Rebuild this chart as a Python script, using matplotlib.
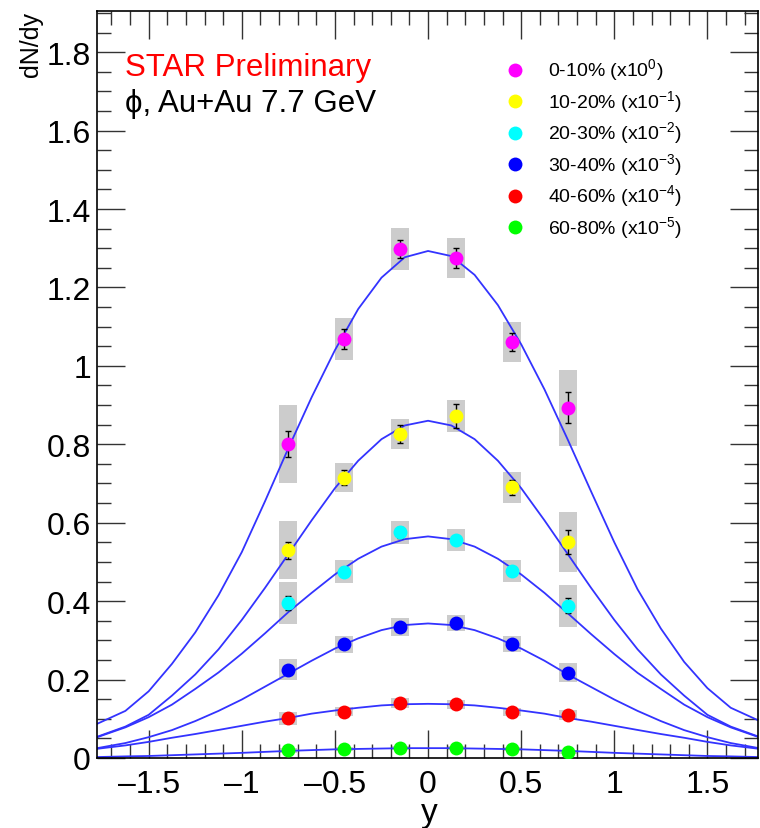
import matplotlib
matplotlib.use("Agg")
import matplotlib.pyplot as plt
from matplotlib.lines import Line2D
from matplotlib.ticker import MultipleLocator

plt.rcParams["font.family"] = ["Liberation Sans", "DejaVu Sans"]
plt.rcParams["mathtext.fontset"] = "custom"
plt.rcParams["mathtext.rm"] = "Liberation Sans"

# ── data ───────────────────────────────────────────────────────────────────
rapidity = [-0.75, -0.45, -0.15, 0.15, 0.45, 0.75]

labels = ["0-10% (x10$^{0}$)", "10-20% (x10$^{-1}$)", "20-30% (x10$^{-2}$)",
          "30-40% (x10$^{-3}$)", "40-60% (x10$^{-4}$)", "60-80% (x10$^{-5}$)"]
colors = ["#ff00ff", "#ffff00", "#00ffff", "#0000ff", "#ff0000", "#00ff00"]

dndy_0_10 = [0.800, 1.069, 1.298, 1.275, 1.061, 0.893]
dndy_10_20 = [0.530, 0.715, 0.826, 0.872, 0.690, 0.551]
dndy_20_30 = [0.395, 0.475, 0.575, 0.555, 0.477, 0.388]
dndy_30_40 = [0.225, 0.290, 0.334, 0.344, 0.290, 0.217]
dndy_40_60 = [0.101, 0.118, 0.140, 0.137, 0.117, 0.110]
dndy_60_80 = [0.019, 0.023, 0.026, 0.026, 0.023, 0.015]

stat_0_10 = [0.033, 0.026, 0.024, 0.025, 0.023, 0.040]
stat_10_20 = [0.022, 0.020, 0.022, 0.030, 0.020, 0.030]
stat_20_30 = [0.018, 0.012, 0.014, 0.010, 0.010, 0.019]
stat_30_40 = [0.008, 0.006, 0.006, 0.006, 0.006, 0.008]
stat_40_60 = [0.004, 0.003, 0.003, 0.003, 0.003, 0.004]
stat_60_80 = [0.002, 0.002, 0.002, 0.002, 0.002, 0.002]

sys_0_10 = [0.100, 0.054, 0.054, 0.052, 0.052, 0.097]
sys_10_20 = [0.074, 0.037, 0.038, 0.040, 0.040, 0.077]
sys_20_30 = [0.054, 0.029, 0.030, 0.028, 0.027, 0.053]
sys_30_40 = [0.027, 0.022, 0.022, 0.020, 0.021, 0.024]
sys_40_60 = [0.016, 0.012, 0.012, 0.011, 0.011, 0.012]
sys_60_80 = [0.006, 0.005, 0.005, 0.005, 0.005, 0.005]

# fit curves
fit_y = [-1.8, -1.625, -1.5, -1.375, -1.25, -1.125, -1.0, -0.875, -0.75,
         -0.625, -0.5, -0.375, -0.25, -0.125, 0.0, 0.125, 0.25, 0.375, 0.5,
         0.625, 0.75, 0.875, 1.0, 1.125, 1.25, 1.375, 1.5, 1.625, 1.8]
fit_0_10 = [0.082, 0.120, 0.170, 0.240, 0.320, 0.415, 0.525, 0.655, 0.790,
            0.920, 1.040, 1.145, 1.225, 1.277, 1.293, 1.280, 1.232, 1.155,
            1.055, 0.940, 0.812, 0.680, 0.550, 0.430, 0.330, 0.245, 0.178,
            0.128, 0.090]
fit_10_20 = [0.050, 0.080, 0.110, 0.159, 0.213, 0.277, 0.352, 0.434, 0.520,
             0.606, 0.688, 0.758, 0.813, 0.848, 0.860, 0.848, 0.813, 0.758,
             0.688, 0.606, 0.520, 0.434, 0.352, 0.277, 0.213, 0.159, 0.110,
             0.080, 0.050]
fit_20_30 = [0.049, 0.078, 0.104, 0.136, 0.176, 0.218, 0.266, 0.318, 0.372,
             0.421, 0.468, 0.508, 0.539, 0.558, 0.565, 0.558, 0.539, 0.508,
             0.468, 0.421, 0.369, 0.316, 0.265, 0.217, 0.176, 0.136, 0.104,
             0.078, 0.049]
fit_30_40 = [0.023, 0.038, 0.053, 0.071, 0.094, 0.120, 0.149, 0.182, 0.215,
             0.248, 0.279, 0.305, 0.326, 0.339, 0.343, 0.339, 0.326, 0.305,
             0.279, 0.248, 0.213, 0.181, 0.149, 0.120, 0.094, 0.071, 0.053,
             0.038, 0.023]
fit_40_60 = [0.022, 0.032, 0.041, 0.0515, 0.061, 0.0714, 0.082, 0.0926, 0.102,
             0.113, 0.121, 0.128, 0.134, 0.137, 0.138, 0.137, 0.134, 0.128,
             0.121, 0.113, 0.102, 0.0926, 0.082, 0.0714, 0.061, 0.0515, 0.041,
             0.032, 0.022]
fit_60_80 = [0.002, 0.004, 0.005, 0.007, 0.009, 0.011, 0.013, 0.0155, 0.018,
             0.020, 0.022, 0.023, 0.024, 0.025, 0.025, 0.025, 0.024, 0.023,
             0.022, 0.020, 0.018, 0.0155, 0.013, 0.011, 0.009, 0.007, 0.005,
             0.004, 0.002]

series = [
    (dndy_0_10, stat_0_10, sys_0_10, fit_0_10),
    (dndy_10_20, stat_10_20, sys_10_20, fit_10_20),
    (dndy_20_30, stat_20_30, sys_20_30, fit_20_30),
    (dndy_30_40, stat_30_40, sys_30_40, fit_30_40),
    (dndy_40_60, stat_40_60, sys_40_60, fit_40_60),
    (dndy_60_80, stat_60_80, sys_60_80, fit_60_80),
]

# ── figure ─────────────────────────────────────────────────────────────────
fig = plt.figure(figsize=(7.6, 8.29), dpi=100)
ax = fig.add_axes([0.127, 0.0845, 0.870, 0.901])

for (vals, stat, sys, fit), col in zip(series, colors):
    lo = [v - s for v, s in zip(vals, sys)]
    ax.bar(rapidity, [2 * s for s in sys], bottom=lo, width=0.096,
           color="#cccccc", edgecolor="none", zorder=1)
    ax.plot(fit_y, fit, color="#3333ff", lw=1.3, zorder=2)
    ax.errorbar(rapidity, vals, yerr=stat, fmt="none", ecolor="black",
                elinewidth=1.0, capsize=2.5, capthick=1.0, zorder=3)
    ax.plot(rapidity, vals, "o", color=col, ms=10, mec="none", zorder=4)

ax.set_xlim(-1.78, 1.77)
ax.set_ylim(0, 1.905)

ax.xaxis.set_major_locator(MultipleLocator(0.5))
ax.xaxis.set_minor_locator(MultipleLocator(0.1))
ax.yaxis.set_major_locator(MultipleLocator(0.2))
ax.yaxis.set_minor_locator(MultipleLocator(0.05))
ax.tick_params(which="both", direction="in", top=True, right=True,
               labelsize=23, color="#333333")
ax.tick_params(axis="y", which="major", length=20, width=1.0, pad=4)
ax.tick_params(axis="x", which="major", length=20, width=1.0, pad=8)
ax.tick_params(which="minor", length=10, width=1.0)
ax.yaxis.set_major_formatter(plt.FuncFormatter(lambda v, p: f"{v:g}"))
ax.xaxis.set_major_formatter(plt.FuncFormatter(
    lambda v, p: f"{v:g}".replace("-", "\u2013")))
for sp in ax.spines.values():
    sp.set_linewidth(1.2)

fig.text(0.041, 0.986, "dN/dy", rotation=90, ha="center", va="top", fontsize=18)
fig.text(0.565, 0.0, "y", ha="center", va="bottom", fontsize=24)

ax.text(0.043, 0.925, "STAR Preliminary", color="red", fontsize=22.5,
        transform=ax.transAxes, va="center")
ax.text(0.043, 0.877, "\u03d5, Au+Au 7.7 GeV", color="black", fontsize=22.5,
        transform=ax.transAxes, va="center")

handles = [Line2D([], [], marker="o", ls="none", color=c, ms=10, mec="none")
           for c in colors]
ax.legend(handles, labels, loc="upper left", bbox_to_anchor=(0.607, 0.949),
          frameon=False, fontsize=14, handlelength=1.0, handletextpad=1.2,
          labelspacing=0.25, borderaxespad=0)

fig.savefig("out.png", dpi=100, facecolor="white")
